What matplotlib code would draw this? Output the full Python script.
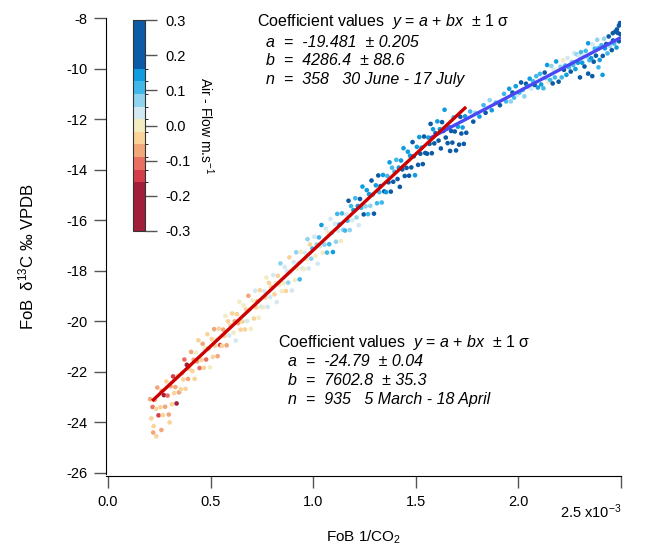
import numpy as np
import matplotlib
matplotlib.use('Agg')
import matplotlib.pyplot as plt
from matplotlib.colors import ListedColormap, BoundaryNorm
from matplotlib.colorbar import ColorbarBase

plt.rcParams['font.family'] = ['Liberation Sans', 'DejaVu Sans']
plt.rcParams['axes.unicode_minus'] = False
plt.rcParams['mathtext.fontset'] = 'custom'
plt.rcParams['mathtext.rm'] = 'Liberation Sans'
plt.rcParams['mathtext.it'] = 'Liberation Sans:italic'

# spring points (5 March - 18 April), x in units of 1e-3
spring_x = [0.205, 0.211, 0.217, 0.222, 0.228, 0.234, 0.240, 0.246,
            0.255, 0.261, 0.267, 0.272, 0.278, 0.284, 0.290, 0.296,
            0.305, 0.311, 0.317, 0.322, 0.328, 0.334, 0.340, 0.346,
            0.355, 0.361, 0.367, 0.372, 0.378, 0.384, 0.390, 0.396,
            0.405, 0.411, 0.417, 0.422, 0.428, 0.434, 0.440, 0.446,
            0.455, 0.461, 0.467, 0.472, 0.478, 0.484, 0.490, 0.496,
            0.505, 0.511, 0.517, 0.522, 0.528, 0.534, 0.540, 0.546,
            0.555, 0.561, 0.567, 0.572, 0.578, 0.584, 0.590, 0.596,
            0.605, 0.611, 0.617, 0.622, 0.628, 0.634, 0.640, 0.646,
            0.655, 0.661, 0.667, 0.672, 0.678, 0.684, 0.690, 0.696,
            0.705, 0.711, 0.717, 0.722, 0.728, 0.734, 0.740, 0.746,
            0.755, 0.761, 0.767, 0.772, 0.778, 0.784, 0.790, 0.796,
            0.805, 0.811, 0.817, 0.822, 0.828, 0.834, 0.840, 0.846,
            0.855, 0.861, 0.867, 0.872, 0.878, 0.884, 0.890, 0.896,
            0.905, 0.911, 0.917, 0.922, 0.928, 0.934, 0.940, 0.946,
            0.955, 0.961, 0.967, 0.972, 0.978, 0.984, 0.990, 0.996,
            1.005, 1.011, 1.017, 1.022, 1.028, 1.034, 1.040, 1.046,
            1.055, 1.061, 1.067, 1.072, 1.078, 1.084, 1.090, 1.096,
            1.105, 1.111, 1.117, 1.122, 1.128, 1.134, 1.140, 1.146,
            1.155, 1.161, 1.167, 1.172, 1.178, 1.184, 1.190, 1.196,
            1.205, 1.211, 1.217, 1.222, 1.228, 1.234, 1.240, 1.246,
            1.255, 1.261, 1.267, 1.272, 1.278, 1.284, 1.290, 1.296,
            1.305, 1.311, 1.317, 1.322, 1.328, 1.334, 1.340, 1.346,
            1.355, 1.361, 1.367, 1.372, 1.378, 1.384, 1.390, 1.396,
            1.405, 1.411, 1.417, 1.422, 1.428, 1.434, 1.440, 1.446,
            1.455, 1.461, 1.467, 1.472, 1.478, 1.484, 1.490, 1.496,
            1.505, 1.511, 1.517, 1.522, 1.528, 1.534, 1.540, 1.546,
            1.555, 1.561, 1.567, 1.572, 1.578, 1.584, 1.590, 1.596,
            1.605, 1.611, 1.617, 1.622, 1.628, 1.634, 1.640, 1.646,
            1.655, 1.661, 1.667, 1.672, 1.678, 1.684, 1.690, 1.696,
            1.705, 1.711, 1.717, 1.722, 1.728, 1.734, 1.740, 1.746,
            0.235, 0.260, 0.300, 0.220]
spring_y = [-23.08, -23.84, -23.39, -24.15, -23.11, -23.46, -22.62, -23.72,
            -23.40, -22.76, -23.71, -22.92, -23.38, -22.38, -22.94, -23.69,
            -22.57, -23.28, -22.18, -22.84, -22.60, -23.25, -22.16, -22.81,
            -22.69, -22.05, -22.30, -21.51, -22.67, -21.72, -22.28, -21.88,
            -21.21, -21.97, -21.52, -22.28, -21.24, -21.59, -20.75, -21.85,
            -21.53, -20.89, -21.84, -21.05, -21.51, -20.51, -21.07, -21.82,
            -20.70, -21.41, -20.31, -20.97, -20.73, -21.38, -20.29, -20.94,
            -20.97, -20.33, -20.58, -19.79, -20.95, -20.00, -20.56, -20.16,
            -19.69, -20.45, -20.00, -20.76, -19.72, -20.07, -19.23, -20.33,
            -20.01, -19.37, -20.32, -19.53, -19.99, -18.99, -19.55, -20.30,
            -19.18, -19.89, -18.79, -19.45, -19.21, -19.86, -18.77, -19.42,
            -19.45, -18.81, -19.06, -18.27, -19.43, -18.48, -19.04, -18.64,
            -18.17, -18.93, -18.48, -19.24, -18.20, -18.55, -17.71, -18.81,
            -18.49, -17.85, -18.80, -18.01, -18.47, -17.47, -18.03, -18.78,
            -17.66, -18.37, -17.27, -17.93, -17.69, -18.34, -17.25, -17.90,
            -17.93, -17.29, -17.54, -16.75, -17.91, -16.96, -17.52, -17.12,
            -16.65, -17.41, -16.96, -17.72, -16.68, -17.03, -16.19, -17.29,
            -16.97, -16.33, -17.28, -16.49, -16.95, -15.95, -16.51, -17.26,
            -16.14, -16.85, -15.75, -16.41, -16.17, -16.82, -15.73, -16.38,
            -16.41, -15.77, -16.02, -15.23, -16.39, -15.44, -16.00, -15.60,
            -15.13, -15.89, -15.44, -16.20, -15.16, -15.51, -14.67, -15.77,
            -15.45, -14.81, -15.76, -14.97, -15.43, -14.43, -14.99, -15.74,
            -14.62, -15.33, -14.23, -14.89, -14.65, -15.30, -14.21, -14.86,
            -14.89, -14.25, -14.50, -13.71, -14.87, -13.92, -14.48, -14.08,
            -13.61, -14.37, -13.92, -14.68, -13.64, -13.99, -13.15, -14.25,
            -13.93, -13.29, -14.24, -13.45, -13.91, -12.91, -13.47, -14.22,
            -13.10, -13.81, -12.71, -13.37, -13.13, -13.78, -12.69, -13.34,
            -13.37, -12.73, -12.98, -12.19, -13.35, -12.40, -12.96, -12.56,
            -12.09, -12.85, -12.40, -13.16, -12.12, -12.47, -11.63, -12.73,
            -12.95, -12.31, -13.26, -12.47, -12.93, -11.93, -12.49, -13.24,
            -12.30, -13.01, -11.91, -12.57, -12.33, -12.98, -11.89, -12.54,
            -24.55, -24.30, -24.00, -24.40]
spring_c = [-0.07, -0.04, -0.11, -0.05, -0.08, -0.02, -0.06, -0.13,
            -0.05, -0.09, -0.03, -0.20, -0.06, -0.04, -0.10, -0.07,
            -0.08, -0.05, -0.14, -0.03, -0.06, -0.17, -0.04, -0.07,
            -0.04, -0.07, -0.02, -0.11, -0.05, -0.22, -0.06, -0.03,
            -0.06, -0.03, -0.09, -0.05, -0.01, -0.07, -0.04, -0.12,
            -0.03, -0.07, -0.05, -0.01, -0.10, -0.04, -0.06, 0.00,
            -0.05, -0.02, -0.08, -0.04, 0.01, -0.06, -0.03, -0.15,
            -0.02, -0.06, -0.04, 0.00, -0.08, -0.03, 0.02, -0.05,
            -0.04, -0.01, -0.06, 0.02, -0.03, -0.09, 0.00, -0.05,
            -0.02, 0.01, -0.05, -0.03, 0.03, -0.07, -0.01, 0.00,
            0.00, -0.04, 0.02, -0.02, -0.06, 0.01, -0.03, 0.04,
            -0.01, 0.03, -0.04, 0.00, 0.02, -0.05, 0.05, -0.02,
            0.02, -0.02, 0.00, 0.04, -0.04, 0.01, 0.06, -0.01,
            0.00, 0.04, -0.02, 0.02, 0.07, -0.03, 0.01, 0.05,
            0.03, 0.00, 0.06, -0.01, 0.02, 0.09, 0.00, 0.04,
            0.01, 0.05, 0.00, 0.08, 0.03, -0.02, 0.06, 0.11,
            0.04, 0.00, 0.07, 0.02, 0.10, 0.05, 0.13, 0.01,
            0.06, 0.02, 0.09, 0.00, 0.12, 0.04, 0.08, 0.15,
            0.03, 0.08, 0.11, 0.05, 0.14, 0.00, 0.10, 0.07,
            0.09, 0.05, 0.12, 0.17, 0.07, 0.10, 0.02, 0.14,
            0.11, 0.07, 0.14, 0.04, 0.18, 0.10, 0.13, 0.20,
            0.08, 0.13, 0.10, 0.16, 0.06, 0.19, 0.12, 0.23,
            0.13, 0.10, 0.17, 0.12, 0.21, 0.09, 0.15, 0.26,
            0.15, 0.11, 0.19, 0.14, 0.24, 0.12, 0.17, 0.10,
            0.12, 0.18, 0.14, 0.22, 0.16, 0.28, 0.13, 0.19,
            0.17, 0.13, 0.21, 0.15, 0.25, 0.18, 0.30, 0.14,
            0.14, 0.20, 0.16, 0.27, 0.13, 0.19, 0.23, 0.30,
            0.19, 0.15, 0.24, 0.17, 0.30, 0.14, 0.21, 0.26,
            0.16, 0.22, 0.13, 0.28, 0.18, 0.25, 0.15, 0.30,
            0.20, 0.14, 0.26, 0.17, 0.30, 0.12, 0.22, 0.18,
            0.15, 0.24, 0.18, 0.29, 0.13, 0.21, 0.16, 0.27,
            -0.04, -0.06, -0.03, -0.08]

# summer points (30 June - 17 July)
summer_x = [1.765, 1.780, 1.790, 1.810, 1.830, 1.840, 1.860, 1.870, 1.890, 1.910, 1.930, 1.940,
            1.955, 1.963, 1.971, 1.979, 1.987, 1.995,
            2.005, 2.013, 2.021, 2.029, 2.037, 2.045,
            2.055, 2.063, 2.071, 2.079, 2.087, 2.095,
            2.105, 2.111, 2.117, 2.122, 2.128, 2.134, 2.140, 2.146,
            2.155, 2.161, 2.167, 2.172, 2.178, 2.184, 2.190, 2.196,
            2.205, 2.211, 2.217, 2.222, 2.228, 2.234, 2.240, 2.246,
            2.255, 2.261, 2.267, 2.272, 2.278, 2.284, 2.290, 2.296,
            2.305, 2.311, 2.317, 2.322, 2.328, 2.334, 2.340, 2.346,
            2.355, 2.361, 2.367, 2.372, 2.378, 2.384, 2.390, 2.396,
            2.405, 2.411, 2.417, 2.422, 2.428, 2.434, 2.440, 2.446,
            2.455, 2.461, 2.467, 2.472, 2.478, 2.484, 2.490, 2.496,
            2.340, 2.360, 2.410, 2.390, 2.300, 2.490, 2.480, 2.495, 2.460]
summer_y = [-11.70, -12.10, -11.75, -11.90, -11.45, -11.75, -11.25, -11.65, -11.35, -11.45, -11.00, -11.30,
            -10.80, -11.30, -10.95, -11.15, -10.70, -11.05,
            -10.95, -10.55, -10.85, -11.10, -10.60, -10.70,
            -10.40, -10.80, -10.50, -10.65, -10.30, -10.75,
            -10.21, -10.63, -10.35, -10.78, -10.16, -10.38, -9.86, -10.53,
            -10.45, -9.90, -10.59, -10.07, -10.35, -9.72, -10.05, -10.52,
            -9.93, -10.35, -9.67, -10.05, -9.88, -10.25, -9.58, -9.95,
            -10.12, -9.74, -9.86, -9.39, -10.02, -9.44, -9.77, -9.49,
            -9.35, -9.77, -9.49, -9.92, -9.30, -9.52, -9.00, -9.67,
            -9.59, -9.04, -9.73, -9.21, -9.49, -8.86, -9.19, -9.66,
            -9.08, -9.50, -8.82, -9.20, -9.03, -9.40, -8.73, -9.10,
            -9.27, -8.89, -9.01, -8.54, -9.17, -8.59, -8.92, -8.64,
            -10.20, -10.30, -10.25, -9.95, -10.35, -8.30, -8.45, -8.20, -8.60]
summer_c = [0.12, 0.20, 0.08, 0.15, 0.10, 0.22, 0.06, 0.14, 0.10, 0.18, 0.12, 0.09,
            0.14, 0.08, 0.20, 0.10, 0.16, 0.05,
            0.10, 0.22, 0.12, 0.06, 0.18, 0.13,
            0.16, 0.04, 0.12, 0.20, 0.09, 0.14,
            0.10, 0.16, 0.04, 0.12, 0.20, 0.08, 0.14, 0.00,
            0.12, 0.08, 0.18, 0.04, 0.10, 0.14, 0.00, 0.20,
            0.06, 0.12, 0.00, 0.18, 0.09, 0.14, 0.03, 0.10,
            0.22, 0.07, 0.11, 0.05, 0.16, 0.08, 0.13, 0.02,
            0.09, 0.14, 0.03, 0.20, 0.11, 0.06, 0.16, 0.10,
            0.13, 0.05, 0.18, 0.09, 0.24, 0.07, 0.12, 0.15,
            0.10, 0.20, 0.08, 0.15, 0.26, 0.12, 0.22, 0.06,
            0.18, 0.28, 0.12, 0.30, 0.15, 0.26, 0.22, 0.30,
            0.18, 0.20, 0.16, 0.10, 0.22, 0.30, 0.28, 0.30, 0.25]

# fitted lines (end points)
spring_fit_x = [0.215, 1.745]
spring_fit_y = [-23.15, -11.52]
summer_fit_x = [1.57, 2.50]
summer_fit_y = [-12.75, -8.77]

cbar_bounds = [-0.3, -0.162, -0.126, -0.09, -0.054, -0.018, 0.018, 0.054, 0.09, 0.126, 0.162, 0.3]
cbar_colors = ['#a21f3a', '#d33e4a', '#ea6f63', '#f2a77a', '#f9d39a', '#f3ecc2',
               '#d3e9f1', '#8fd3ee', '#40b9ea', '#0f9de0', '#0b5ba6']
cbar_ticks = [-0.3, -0.2, -0.1, 0.0, 0.1, 0.2, 0.3]

cmap = ListedColormap(cbar_colors)
norm = BoundaryNorm(cbar_bounds, cmap.N)

fig = plt.figure(figsize=(6.51, 5.48), dpi=100)
ax = fig.add_axes([106 / 651, 72 / 548, 515 / 651, 458 / 548])

ax.scatter(spring_x, spring_y, c=spring_c, cmap=cmap, norm=norm, s=11, linewidths=0, zorder=2)
ax.scatter(summer_x, summer_y, c=summer_c, cmap=cmap, norm=norm, s=11, linewidths=0, zorder=2)
ax.plot(summer_fit_x, summer_fit_y, color='#4a48f5', lw=2.4, solid_capstyle='butt', zorder=3)
ax.plot(spring_fit_x, spring_fit_y, color='#cc0000', lw=2.4, solid_capstyle='butt', zorder=4)

ax.set_xlim(-0.01, 2.5)
ax.set_ylim(-26.12, -8)
ax.spines['top'].set_visible(False)
ax.spines['right'].set_visible(False)
ax.spines['left'].set_bounds(-26.05, -8)
ax.spines['bottom'].set_bounds(-0.01, 2.5)

ax.set_yticks(np.arange(-26, -7, 2))
ax.set_xticks([0, 0.5, 1.0, 1.5, 2.0, 2.5])
ax.set_xticklabels(['0.0', '0.5', '1.0', '1.5', '2.0', ''])
ax.tick_params(direction='out', length=8.5, width=1, color='#555555', labelsize=10.5, pad=5)
ax.text(2.5, -27.55, '2.5 x10$^{-3}$', ha='right', va='center', fontsize=10.5)

ax.set_xlabel('FoB 1/CO$_2$', fontsize=11, labelpad=14)
ax.set_ylabel('FoB  δ$^{13}$C ‰ VPDB', fontsize=12)
ax.yaxis.set_label_coords(-0.135, 0.48)

# annotations
ax.text(0.728, -8.15, 'Coefficient values  $y$ = $a$ + $bx$  ± $1$ σ', fontsize=11.5, va='center')
ax.text(0.77, -8.95, 'a  =  -19.481  ± 0.205', fontsize=11.5, style='italic', va='center')
ax.text(0.77, -9.7, 'b  =  4286.4  ± 88.6', fontsize=11.5, style='italic', va='center')
ax.text(0.77, -10.45, 'n  =  358   30 June - 17 July', fontsize=11.5, style='italic', va='center')

ax.text(0.83, -20.85, 'Coefficient values  $y$ = $a$ + $bx$  ± $1$ σ', fontsize=11.5, va='center')
ax.text(0.875, -21.6, 'a  =  -24.79  ± 0.04', fontsize=11.5, style='italic', va='center')
ax.text(0.875, -22.35, 'b  =  7602.8  ± 35.3', fontsize=11.5, style='italic', va='center')
ax.text(0.875, -23.1, 'n  =  935   5 March - 18 April', fontsize=11.5, style='italic', va='center')

# colour bar
cax = fig.add_axes([133 / 651, 317 / 548, 12 / 651, 211 / 548])
cb = ColorbarBase(cax, cmap=cmap, norm=norm, boundaries=cbar_bounds, ticks=cbar_ticks, spacing='proportional')
cb.outline.set_linewidth(0.8)
cb.outline.set_edgecolor('#333333')
cax.tick_params(direction='out', length=8.5, width=1, color='#555555', labelsize=10.5, pad=6)
cax.set_yticklabels(['-0.3', '-0.2', '-0.1', '0.0', '0.1', '0.2', '0.3'])
cb.set_label('Air - Flow m.s$^{-1}$', rotation=270, fontsize=10)
cax.yaxis.set_label_coords(6.9, 0.5)

fig.savefig('out.png', dpi=100)
